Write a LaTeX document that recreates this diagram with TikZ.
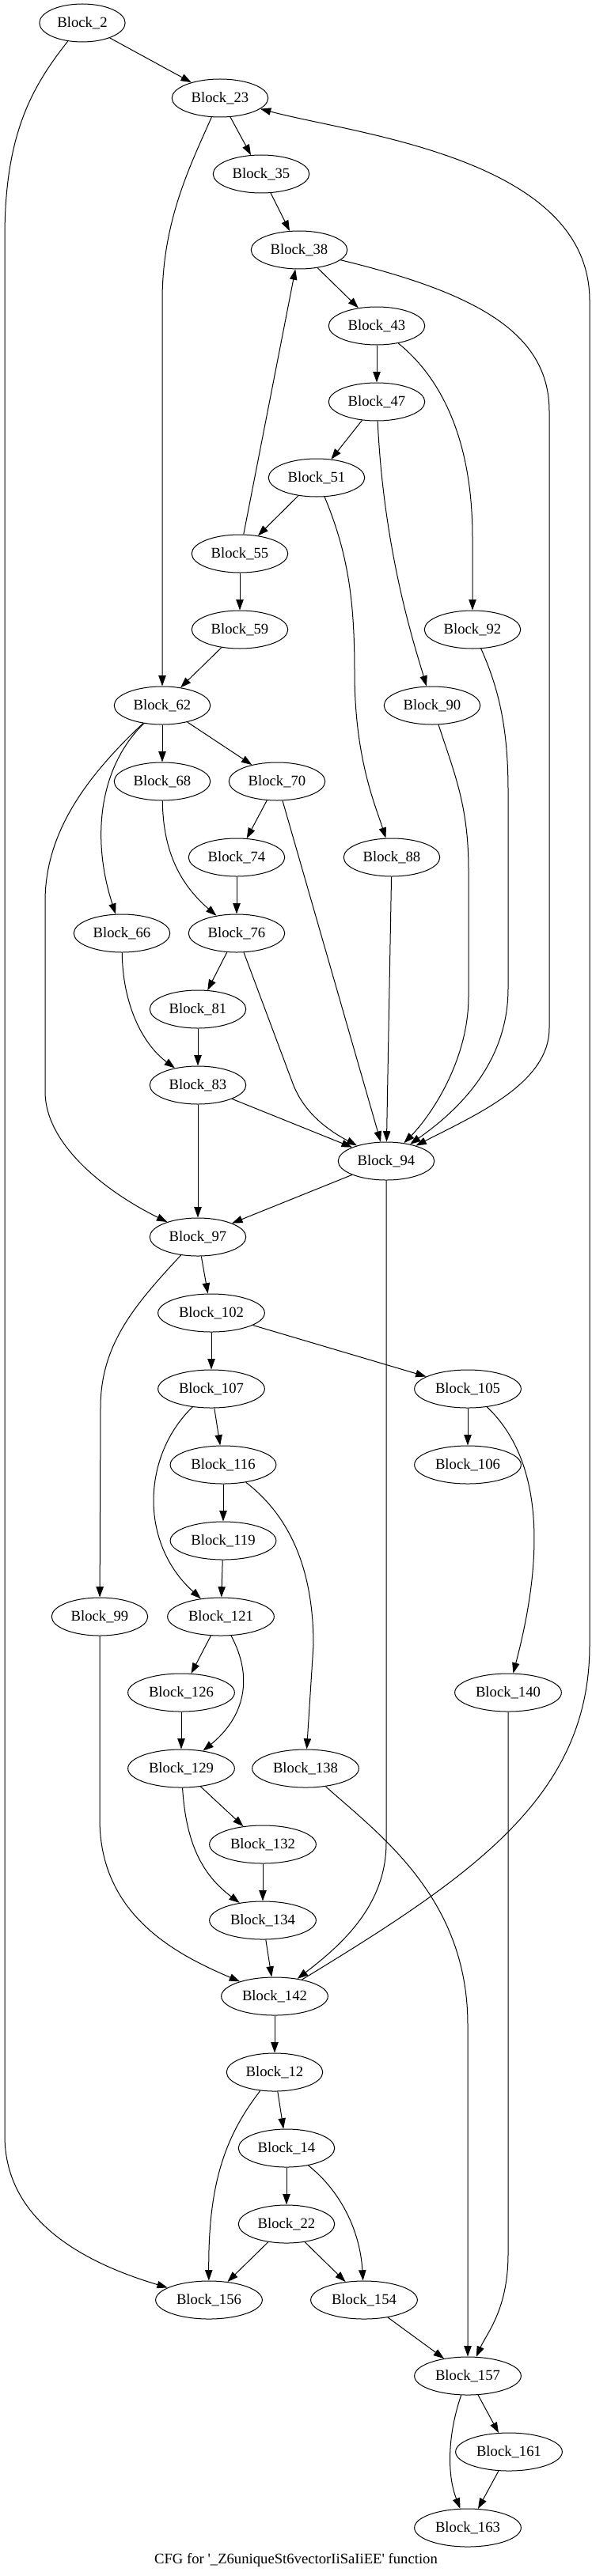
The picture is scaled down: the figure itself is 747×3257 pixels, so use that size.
\documentclass[tikz,border=0pt]{standalone}
\usepackage{fontspec}
\setmainfont{Liberation Serif}
\usepackage{tikz}
\usetikzlibrary{shapes.geometric,arrows.meta}
\tikzset{
  blk/.style={ellipse, draw, line width=0.75pt, inner xsep=5pt, inner ysep=0pt, minimum height=36pt, font=\fontsize{14}{16}\selectfont},
  ed/.style={-{Triangle[length=10pt,width=7pt]}, line width=0.75pt},
  ttl/.style={font=\fontsize{14}{16}\selectfont},
  cfg/.style={x=0.75pt, y=-0.75pt}
}

\begin{document}
\begin{tikzpicture}[cfg]
        \useasboundingbox (0,0) rectangle (747,3257);
        \node[blk] (b2) at (104,29) {Block\_2};
        \node[blk] (b23) at (278,124) {Block\_23};
        \node[blk] (b35) at (330,220) {Block\_35};
        \node[blk] (b38) at (378,316) {Block\_38};
        \node[blk] (b43) at (476,412) {Block\_43};
        \node[blk] (b47) at (476,508) {Block\_47};
        \node[blk] (b51) at (400,604) {Block\_51};
        \node[blk] (b55) at (303,700) {Block\_55};
        \node[blk] (b59) at (303,796) {Block\_59};
        \node[blk] (b92) at (597,796) {Block\_92};
        \node[blk] (b62) at (205,892) {Block\_62};
        \node[blk] (b90) at (546,892) {Block\_90};
        \node[blk] (b68) at (205,988) {Block\_68};
        \node[blk] (b70) at (350,988) {Block\_70};
        \node[blk] (b74) at (299,1084) {Block\_74};
        \node[blk] (b88) at (495,1084) {Block\_88};
        \node[blk] (b66) at (154,1180) {Block\_66};
        \node[blk] (b76) at (299,1180) {Block\_76};
        \node[blk] (b81) at (250,1276) {Block\_81};
        \node[blk] (b83) at (250,1372) {Block\_83};
        \node[blk] (b94) at (488,1468) {Block\_94};
        \node[blk] (b97) at (250,1564) {Block\_97};
        \node[blk] (b102) at (267,1660) {Block\_102};
        \node[blk] (b107) at (267,1756) {Block\_107};
        \node[blk] (b105) at (591,1756) {Block\_105};
        \node[blk] (b116) at (282,1852) {Block\_116};
        \node[blk] (b106) at (591,1852) {Block\_106};
        \node[blk] (b119) at (282,1948) {Block\_119};
        \node[blk] (b99) at (126,2044) {Block\_99};
        \node[blk] (b121) at (279,2044) {Block\_121};
        \node[blk] (b126) at (229,2140) {Block\_126};
        \node[blk] (b140) at (642,2140) {Block\_140};
        \node[blk] (b129) at (229,2236) {Block\_129};
        \node[blk] (b138) at (386,2236) {Block\_138};
        \node[blk] (b132) at (332,2332) {Block\_132};
        \node[blk] (b134) at (332,2428) {Block\_134};
        \node[blk] (b142) at (347,2524) {Block\_142};
        \node[blk] (b12) at (347,2620) {Block\_12};
        \node[blk] (b14) at (362,2716) {Block\_14};
        \node[blk] (b22) at (362,2812) {Block\_22};
        \node[blk] (b156) at (264,2908) {Block\_156};
        \node[blk] (b154) at (460,2908) {Block\_154};
        \node[blk] (b157) at (591,3004) {Block\_157};
        \node[blk] (b161) at (643,3100) {Block\_161};
        \node[blk] (b163) at (591,3196) {Block\_163};
        \node[ttl] (title) at (374,3237) {CFG for \textquotesingle\_Z6uniqueSt6vectorIiSaIiEE\textquotesingle\ function};
        % straight edges
        \foreach \a/\b in {b2/b23, b23/b35, b35/b38, b38/b43, b43/b47, b47/b51, b51/b55,
            b55/b38, b55/b59, b59/b62, b62/b68, b62/b70, b70/b74, b74/b76, b70/b94,
            b88/b94, b76/b81, b81/b83, b83/b94, b83/b97, b94/b97, b97/b102,
            b102/b107, b102/b105, b107/b116, b105/b106, b116/b119, b119/b121,
            b121/b126, b126/b129, b129/b132, b132/b134, b134/b142, b142/b12,
            b12/b14, b14/b22, b22/b156, b22/b154, b154/b157, b157/b161, b161/b163}
          \draw[ed] (\a) -- (\b);
        % curved edges
        \draw[ed] (b2) .. controls (40,110) and (6,170) .. (6,300) -- (6,2700)
          .. controls (6,2810) and (110,2862) .. (b156);
        \draw[ed] (b23) .. controls (240,210) and (205,280) .. (205,380) -- (b62);
        \draw[ed] (b38) .. controls (600,370) and (694,420) .. (694,520) -- (694,1300)
          .. controls (694,1370) and (600,1410) .. (b94);
        \draw[ed] (b142) .. controls (600,2370) and (745,2270) .. (745,2080) -- (745,380)
          .. controls (745,200) and (450,170) .. (b23);
        \draw[ed] (b43) .. controls (560,480) and (597,560) .. (597,680) -- (b92);
        \draw[ed] (b47) .. controls (485,700) and (525,820) .. (b90);
        \draw[ed] (b51) .. controls (440,700) and (448,760) .. (448,850)
          .. controls (448,960) and (475,1020) .. (b88);
        \draw[ed] (b92) .. controls (630,870) and (642,920) .. (642,1000) -- (642,1250)
          .. controls (642,1350) and (570,1410) .. (b94);
        \draw[ed] (b90) .. controls (575,980) and (592,1020) .. (592,1100) -- (592,1260)
          .. controls (592,1340) and (545,1410) .. (b94);
        \draw[ed] (b76) -- (370,1370) .. controls (385,1410) and (420,1432) .. (b94);
        \draw[ed] (b62) .. controls (125,970) and (115,1060) .. (b66);
        \draw[ed] (b62) .. controls (100,990) and (57,1060) .. (57,1140) -- (57,1380)
          .. controls (57,1450) and (140,1510) .. (b97);
        \draw[ed] (b68) .. controls (206,1080) and (230,1120) .. (b76);
        \draw[ed] (b66) .. controls (155,1270) and (180,1320) .. (b83);
        \draw[ed] (b97) .. controls (170,1650) and (127,1700) .. (127,1780) -- (b99);
        \draw[ed] (b107) .. controls (180,1840) and (175,1950) .. (b121);
        \draw[ed] (b105) .. controls (680,1840) and (692,1950) .. (b140);
        \draw[ed] (b116) .. controls (370,1920) and (396,1990) .. (396,2080) -- (b138);
        \draw[ed] (b94) -- (488,2330) .. controls (488,2410) and (430,2460) .. (b142);
        \draw[ed] (b99) -- (126,2300) .. controls (126,2420) and (220,2470) .. (b142);
        \draw[ed] (b121) .. controls (320,2120) and (310,2170) .. (b129);
        \draw[ed] (b129) .. controls (235,2330) and (255,2370) .. (b134);
        \draw[ed] (b138) .. controls (480,2320) and (591,2400) .. (591,2560) -- (b157);
        \draw[ed] (b140) -- (642,2850) .. controls (642,2920) and (615,2950) .. (b157);
        \draw[ed] (b12) .. controls (285,2700) and (263,2760) .. (b156);
        \draw[ed] (b14) .. controls (430,2770) and (455,2820) .. (b154);
        \draw[ed] (b157) .. controls (565,3080) and (565,3130) .. (b163);
      \end{tikzpicture}
\end{document}
